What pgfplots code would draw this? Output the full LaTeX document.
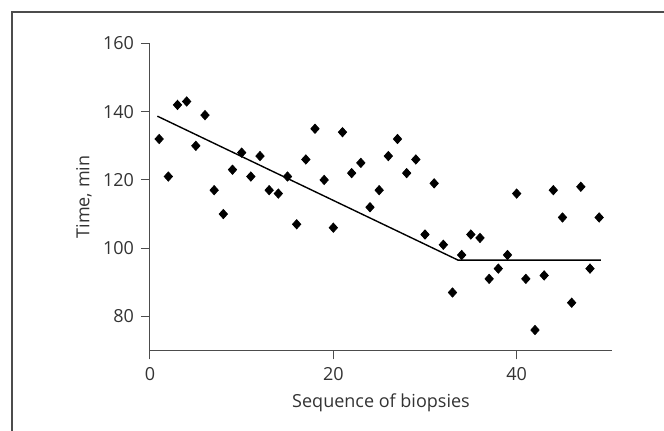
\documentclass[border=0pt]{standalone}
\usepackage{fontspec}
\setmainfont{Open Sans}
\usepackage{pgfplots}
\pgfplotsset{compat=1.18}
\definecolor{ax}{rgb}{0.30,0.30,0.30}
\definecolor{tx}{rgb}{0.20,0.20,0.20}

\begin{document}
\begin{tikzpicture}
\begin{axis}[
  scale only axis,
  width            = 231pt,
  height           = 153.5pt,
  at               = {(0,0)},
  anchor           = south west,
  xmin = 0, xmax = 50.4,
  ymin = 70, ymax = 160,
  xtick            = {0,20,40},
  ytick            = {80,100,...,160},
  axis x line      = bottom,
  axis y line      = left,
  axis line style  = {draw=ax, line width=0.5pt, -},
  tick style       = {draw=ax, line width=0.5pt},
  tick align       = outside,
  major tick length= 4.5pt,
  every tick label/.append style = {font=\fontsize{9}{11}\selectfont, text=tx},
  xticklabel style = {yshift=-0.5pt},
  label style      = {font=\fontsize{9}{11}\selectfont, text=tx},
  xlabel           = {Sequence of biopsies},
  ylabel           = {Time, min},
  xlabel style     = {at={(axis description cs:0.5,-0.1695)}, anchor=center},
  ylabel style     = {at={(axis description cs:-0.143,0.5)}, anchor=center},
  /pgf/number format/assume math mode=true,
  clip = false,
]
\addplot[only marks, mark=diamond*, mark size=2.3pt, mark options={xscale=1.2, fill=black, draw=black}]
  coordinates {
  (1,132)(2,121)(3,142)(4,143)(5,130)(6,139)(7,117)(8,110)(9,123)(10,128)
  (11,121)(12,127)(13,117)(14,116)(15,121)(16,107)(17,126)(18,135)(19,120)(20,106)
  (21,134)(22,122)(23,125)(24,112)(25,117)(26,127)(27,132)(28,122)(29,126)(30,104)
  (31,119)(32,101)(33,87)(34,98)(35,104)(36,103)(37,91)(38,94)(39,98)(40,116)
  (41,91)(42,76)(43,92)(44,117)(45,109)(46,84)(47,118)(48,94)(49,109)
  };
\addplot[black, line width=0.7pt, mark=none]
  coordinates {(0.8,138.7)(33.6,96.5)(49.2,96.5)};
\end{axis}
\draw[ax, line width=0.6pt] (-69pt,-45pt) -- (-69pt,169.25pt) -- (262pt,169.25pt);
\pgfresetboundingbox
\useasboundingbox (-75pt,-40.25pt) rectangle (257pt,175.25pt);
\end{tikzpicture}
\end{document}
